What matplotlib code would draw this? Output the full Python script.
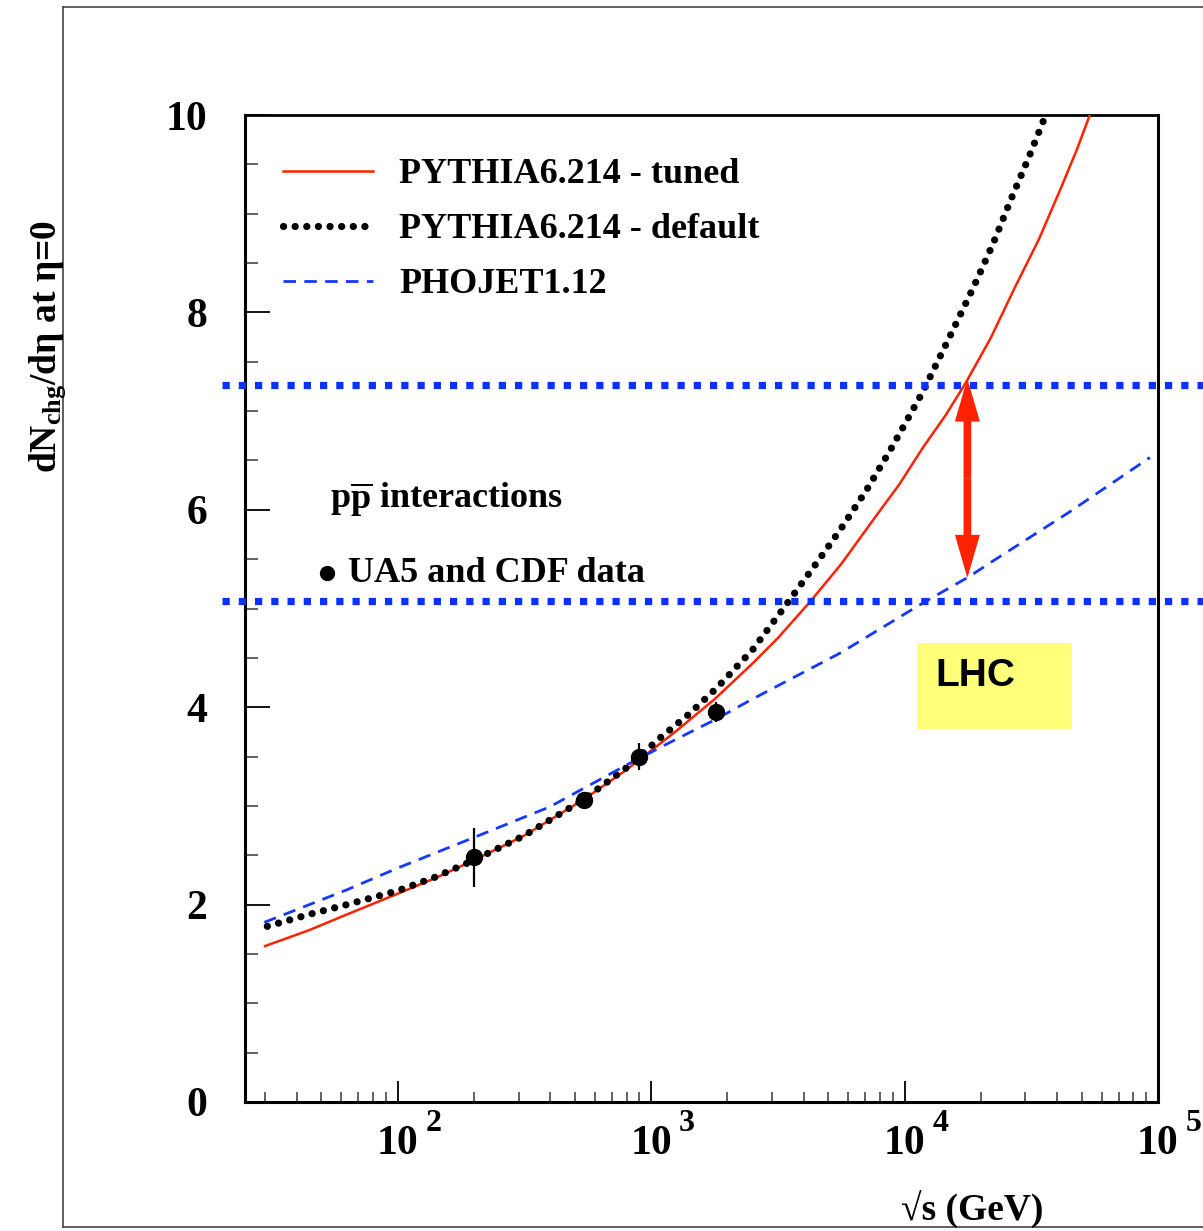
import numpy as np
import matplotlib
matplotlib.use('Agg')
import matplotlib.pyplot as plt
from matplotlib.transforms import blended_transform_factory, offset_copy
from matplotlib.patches import Rectangle, FancyArrowPatch
from matplotlib.lines import Line2D
from matplotlib.ticker import FixedLocator, LogLocator, NullFormatter, FixedFormatter

plt.rcParams['mathtext.fontset'] = 'custom'
plt.rcParams['mathtext.rm'] = 'Liberation Serif:bold'
plt.rcParams['mathtext.it'] = 'Liberation Serif:bold'
plt.rcParams['mathtext.bf'] = 'Liberation Serif:bold'
SERIF = ['Liberation Serif', 'DejaVu Serif']

# ---------------- data ----------------
tuned_logE = [1.477, 1.65, 1.8, 2.0, 2.15, 2.301, 2.5, 2.731, 2.9, 3.0, 3.1, 3.25, 3.403,
              3.5, 3.628, 3.75, 3.877, 3.98, 4.075, 4.16, 4.24, 4.34, 4.431, 4.53, 4.617, 4.68, 4.731]
tuned_val = [1.58, 1.74, 1.90, 2.11, 2.27, 2.45, 2.70, 3.06, 3.36, 3.56, 3.76, 4.08, 4.45,
             4.70, 5.07, 5.45, 5.90, 6.26, 6.64, 6.95, 7.28, 7.74, 8.23, 8.74, 9.26, 9.65, 10.0]

default_logE = [1.486, 1.65, 1.8, 2.0, 2.15, 2.301, 2.5, 2.731, 2.9, 3.036, 3.15, 3.261, 3.4,
                3.522, 3.65, 3.747, 3.85, 3.945, 4.071, 4.17, 4.273, 4.35, 4.419, 4.49, 4.557]
default_val = [1.78, 1.90, 2.00, 2.14, 2.28, 2.45, 2.70, 3.06, 3.38, 3.69, 3.93, 4.20, 4.58,
               5.00, 5.45, 5.80, 6.20, 6.61, 7.19, 7.71, 8.26, 8.70, 9.14, 9.57, 10.0]

phojet_logE = [1.474, 1.8, 2.0, 2.301, 2.6, 2.9, 3.087, 3.25, 3.391, 3.747, 4.075, 4.253,
               4.336, 4.652, 4.968]
phojet_val = [1.82, 2.15, 2.37, 2.68, 2.99, 3.41, 3.66, 3.87, 4.07, 4.55, 5.06, 5.32,
              5.46, 5.98, 6.53]

data_E = [200, 546, 900, 1800]
data_val = [2.48, 3.06, 3.50, 3.95]
data_err = [0.30, 0.05, 0.14, 0.10]

lhc_levels = [7.26, 5.08]
arrow_E = 1.77e4
arrow_top = 7.33
arrow_bottom = 5.31
lhc_box_E = [1.12e4, 4.57e4]
lhc_box_val = [3.78, 4.65]

labels = ['PYTHIA6.214 - tuned', 'PYTHIA6.214 - default', 'PHOJET1.12']
y_ticks = [0, 2, 4, 6, 8, 10]
x_major = [1e2, 1e3, 1e4, 1e5]
x_exp = ['2', '3', '4', '5']

# ---------------- figure ----------------
W, H = 1203, 1231
fig = plt.figure(figsize=(W / 100, H / 100), dpi=100)
ax = fig.add_axes([245 / W, 1 - 1102 / H, (1158 - 245) / W, (1102 - 115) / H])

RED = '#ff2200'
BLUE = '#1538ff'
HBLUE = '#0a32ff'

ax.plot(10 ** np.array(tuned_logE), tuned_val, color=RED, lw=1.8, label=labels[0], zorder=3)
ax.plot(10 ** np.array(default_logE), default_val, color='black', lw=5.2,
        linestyle=(0, (0.01, 1.6)), dash_capstyle='round', label=labels[1], zorder=3)
ax.plot(10 ** np.array(phojet_logE), phojet_val, color=BLUE, lw=2.0,
        linestyle=(0, (4.5, 3.0)), label=labels[2], zorder=3)

ax.errorbar(data_E, data_val, yerr=data_err, fmt='o', color='black', ms=11.5,
            elinewidth=1.6, capsize=0, zorder=5)

# horizontal blue dotted levels extending beyond the axes
tr_h = blended_transform_factory(fig.transFigure, ax.transData)
for lev in lhc_levels:
    ax.plot([222 / W, 1.0], [lev, lev], transform=tr_h, color=HBLUE, lw=5.2,
            linestyle=(0, (1.0, 1.25)), solid_capstyle='butt', dash_capstyle='butt',
            clip_on=False, zorder=4)

# LHC box
ax.add_patch(Rectangle((lhc_box_E[0], lhc_box_val[0]), lhc_box_E[1] - lhc_box_E[0],
                       lhc_box_val[1] - lhc_box_val[0], facecolor='#ffff7a',
                       edgecolor='none', zorder=2))
ax.text(lhc_box_E[0] * 1.18, (lhc_box_val[0] + lhc_box_val[1]) / 2 + 0.1, 'LHC',
        family=['Liberation Sans Narrow', 'Liberation Sans', 'DejaVu Sans'],
        fontweight='bold', fontsize=28, va='center', ha='left', zorder=6)

# double headed red arrow
mid = (arrow_top + arrow_bottom) / 2
for end in (arrow_top, arrow_bottom):
    ax.add_patch(FancyArrowPatch((arrow_E, mid), (arrow_E, end),
                                 arrowstyle='simple,head_length=31,head_width=18,tail_width=5.5',
                                 mutation_scale=1, color=RED, lw=0, zorder=6,
                                 shrinkA=0, shrinkB=0))

ax.set_xscale('log')
ax.set_xlim(25, 1e5)
ax.set_ylim(0, 10)

for s in ax.spines.values():
    s.set_linewidth(2.2)
ax.spines['top'].set_linewidth(2.0)

ax.xaxis.set_major_locator(FixedLocator(x_major))
ax.xaxis.set_minor_locator(LogLocator(base=10, subs=np.arange(2, 10), numticks=20))
ax.xaxis.set_major_formatter(NullFormatter())
ax.xaxis.set_minor_formatter(NullFormatter())
ax.yaxis.set_major_locator(FixedLocator(y_ticks))
ax.yaxis.set_minor_locator(FixedLocator(np.arange(0, 10.01, 0.5)))
ax.yaxis.set_major_formatter(FixedFormatter([str(v) for v in y_ticks]))

ax.tick_params(axis='both', which='both', direction='in', top=False, right=False)
ax.tick_params(axis='y', which='major', length=18, width=1.3, color='black', pad=27)
ax.tick_params(axis='y', which='minor', length=9, width=1.3, color='#555555')
ax.tick_params(axis='x', which='major', length=15, width=1.3, color='black')
ax.tick_params(axis='x', which='minor', length=7.5, width=1.3, color='#555555')
for lab in ax.get_yticklabels():
    lab.set_family(SERIF)
    lab.set_fontweight('bold')
    lab.set_fontsize(30)

# x tick labels "10" with exponent
trx = blended_transform_factory(ax.transData, ax.transAxes)
for v, e in zip(x_major, x_exp):
    ax.text(v, 0, '10', transform=offset_copy(trx, fig=fig, x=0, y=-30, units='points'),
            ha='center', va='center', family=SERIF, fontweight='bold', fontsize=30,
            clip_on=False)
    ax.text(v, 0, e, transform=offset_copy(trx, fig=fig, x=20, y=-15.5, units='points'),
            ha='left', va='center', family=SERIF, fontweight='bold', fontsize=23,
            clip_on=False)

# axis labels
fig.text(48 / W, 1 - 347 / H, r'dN$_{\mathrm{chg}}$/dη at η=0', rotation=90,
         ha='center', va='center', family=SERIF, fontweight='bold', fontsize=27)
fig.text(1043 / W, 1 - 1221 / H, '√s (GeV)', ha='right', va='baseline',
         family=SERIF, fontweight='bold', fontsize=27)

# legend
leg = ax.legend(loc='upper left', bbox_to_anchor=((283 - 245) / 913, (1102 - 158) / 987),
                frameon=False, prop={'family': SERIF, 'weight': 'bold', 'size': 26},
                handlelength=2.5, handletextpad=0.72, labelspacing=0.6, borderpad=0,
                borderaxespad=0)

# annotations
tra = ax.transAxes
ax.text((330 - 245) / 913, (1102 - 500) / 987, r'p$\overline{\mathrm{p}}$ interactions',
        transform=tra, ha='left', va='center', family=SERIF, fontweight='bold', fontsize=26)
ax.plot([(327 - 245) / 913], [(1102 - 573) / 987], 'o', color='black', ms=10,
        transform=tra)
ax.text((348 - 245) / 913, (1102 - 573) / 987, 'UA5 and CDF data',
        transform=tra, ha='left', va='center', family=SERIF, fontweight='bold', fontsize=26)

# outer frame (figure border)
fx0, fy0, fy1 = 63 / W, 1 - 1227 / H, 1 - 7 / H
for xs, ys in [([fx0, fx0], [fy0, fy1]), ([fx0, 1.0], [fy1, fy1]), ([fx0, 1.0], [fy0, fy0])]:
    fig.add_artist(Line2D(xs, ys, transform=fig.transFigure, color='#444444', lw=1.2))

fig.savefig('out.png', dpi=100)
